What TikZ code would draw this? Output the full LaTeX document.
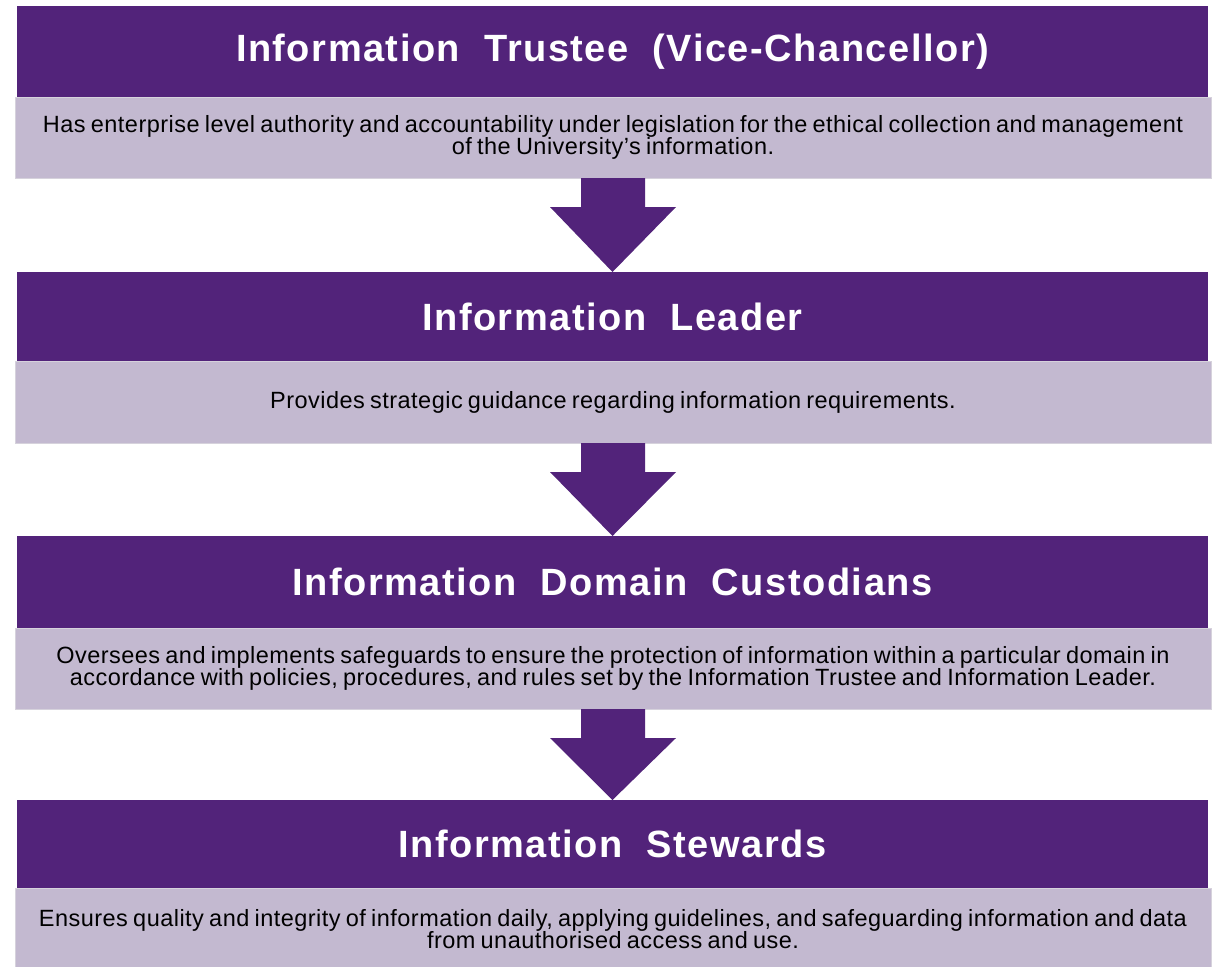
\documentclass[tikz,border=0pt]{standalone}
\usepackage{fontspec}
\setmainfont{Liberation Sans}
\newfontfamily\headfont[LetterSpace=4,WordSpace=2]{Liberation Sans}
\newfontfamily\bodyfont[LetterSpace=2,WordSpace=0.75]{Liberation Sans}
\usetikzlibrary{calc}
\definecolor{ipurple}{RGB}{82,35,122}
\definecolor{ilight}{RGB}{195,185,208}
\definecolor{iborder}{RGB}{214,210,220}
\begin{document}
\begin{tikzpicture}[x=1pt,y=-1pt]
\useasboundingbox (0,0) rectangle (1217,966);
\tikzset{
  headbox/.style={fill=ipurple, text=white, minimum width=1191pt, inner sep=0pt, outer sep=0pt,
    font=\headfont\bfseries\fontsize{38}{42}\selectfont, anchor=north west},
  bodybox/.style={fill=ilight, draw=iborder, line width=1pt, minimum width=1196pt, inner sep=0pt, outer sep=0pt,
    align=center, font=\bodyfont\fontsize{23.5}{22.5}\selectfont, anchor=north west},
  flowarrow/.style={fill=ipurple}
}
% bodies first so headers overlap their top border
\node[bodybox, minimum height=81pt] (b1) at (15,97) {Has enterprise level authority and accountability under legislation for the ethical collection and management\\of the University’s information.};
\node[bodybox, minimum height=82pt] (b2) at (15,361) {Provides strategic guidance regarding information requirements.};
\node[bodybox, minimum height=81pt] (b3) at (15,628) {Oversees and implements safeguards to ensure the protection of information within a particular domain in\\accordance with policies, procedures, and rules set by the Information Trustee and Information Leader.};
\node[bodybox, minimum height=82pt] (b4) at (15,888) {Ensures quality and integrity of information daily, applying guidelines, and safeguarding information and data\\from unauthorised access and use.};

\node[headbox, minimum height=91pt] (h1) at (17,6) {Information Trustee (Vice-Chancellor)};
\node[headbox, minimum height=89pt] (h2) at (17,272) {Information Leader};
\node[headbox, minimum height=92pt] (h3) at (17,536) {Information Domain Custodians};
\node[headbox, minimum height=88pt] (h4) at (17,800) {Information Stewards};

\foreach \a/\b in {b1/h2,b2/h3,b3/h4}{
  \fill[flowarrow] ($(\a.south)+(-32,0)$) -- ($(\a.south)+(32,0)$) -- ($(\a.south)+(32,29)$)
    -- ($(\a.south)+(63,29)$) -- (\b.north) -- ($(\a.south)+(-63,29)$) -- ($(\a.south)+(-32,29)$) -- cycle;
}
\end{tikzpicture}
\end{document}
